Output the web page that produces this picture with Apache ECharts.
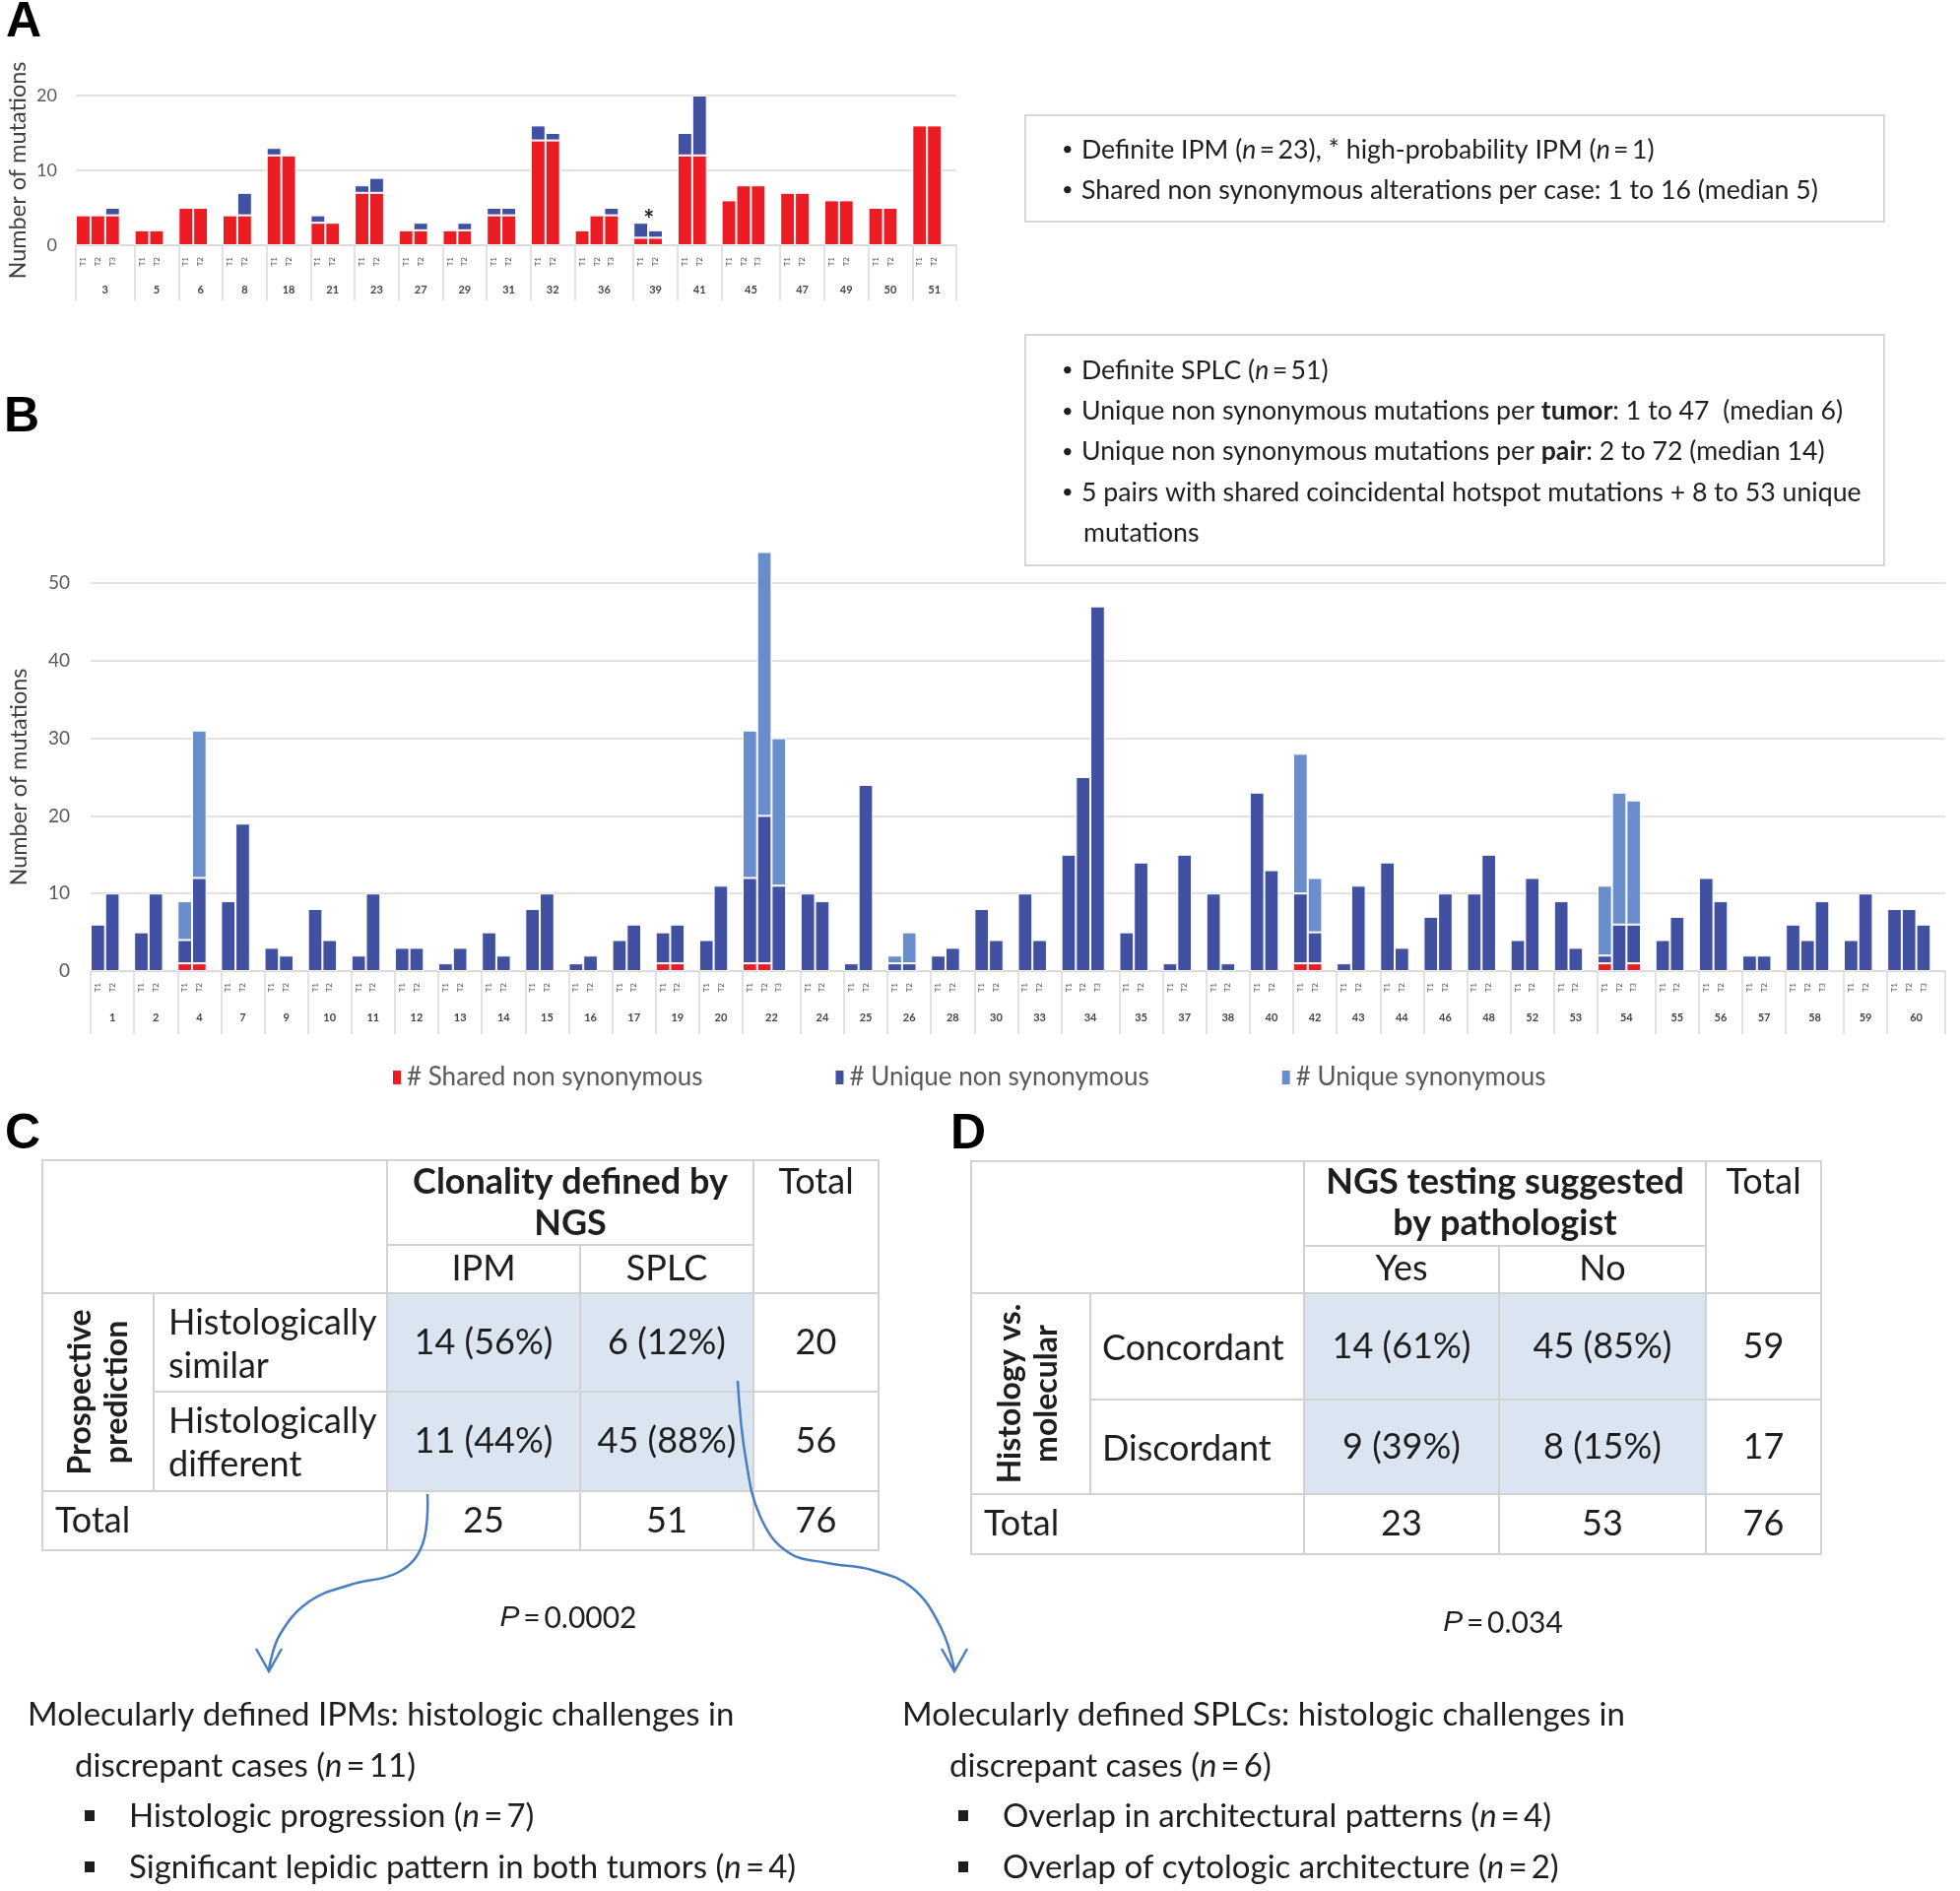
<!DOCTYPE html>
<html>
<head>
<meta charset="utf-8">
<script src="https://cdn.jsdelivr.net/npm/echarts@6/dist/echarts.min.js"></script>
<style>
html, body { margin: 0; padding: 0; background: #fff; }
#chart { width: 1990px; height: 1920px; }
</style>
</head>
<body>
<div id="chart"></div>
<script>
// ---- panel A: IPM cases (per tumor T1, T2, T3) ----
const ipmCases = ['3', '5', '6', '8', '18', '21', '23', '27', '29', '31', '32', '36', '39', '41', '45', '47', '49', '50', '51'];
const ipmShared = [[4, 4, 4], [2, 2], [5, 5], [4, 4], [12, 12], [3, 3], [7, 7], [2, 2], [2, 2], [4, 4], [14, 14], [2, 4, 4], [1, 1], [12, 12], [6, 8, 8], [7, 7], [6, 6], [5, 5], [16, 16]];
const ipmUnique = [[0, 0, 1], [0, 0], [0, 0], [0, 3], [1, 0], [1, 0], [1, 2], [0, 1], [0, 1], [1, 1], [2, 1], [0, 0, 1], [2, 1], [3, 8], [0, 0, 0], [0, 0], [0, 0], [0, 0], [0, 0]];
const highProbCase = '39';

// ---- panel B: SPLC cases ----
const splcCases = ['1', '2', '4', '7', '9', '10', '11', '12', '13', '14', '15', '16', '17', '19', '20', '22', '24', '25', '26', '28', '30', '33', '34', '35', '37', '38', '40', '42', '43', '44', '46', '48', '52', '53', '54', '55', '56', '57', '58', '59', '60'];
const splcShared = [[0, 0], [0, 0], [1, 1], [0, 0], [0, 0], [0, 0], [0, 0], [0, 0], [0, 0], [0, 0], [0, 0], [0, 0], [0, 0], [1, 1], [0, 0], [1, 1, 0], [0, 0], [0, 0], [0, 0], [0, 0], [0, 0], [0, 0], [0, 0, 0], [0, 0], [0, 0], [0, 0], [0, 0], [1, 1], [0, 0], [0, 0], [0, 0], [0, 0], [0, 0], [0, 0], [1, 0, 1], [0, 0], [0, 0], [0, 0], [0, 0, 0], [0, 0], [0, 0, 0]];
const splcUniqueNS = [[6, 10], [5, 10], [3, 11], [9, 19], [3, 2], [8, 4], [2, 10], [3, 3], [1, 3], [5, 2], [8, 10], [1, 2], [4, 6], [4, 5], [4, 11], [11, 19, 11], [10, 9], [1, 24], [1, 1], [2, 3], [8, 4], [10, 4], [15, 25, 47], [5, 14], [1, 15], [10, 1], [23, 13], [9, 4], [1, 11], [14, 3], [7, 10], [10, 15], [4, 12], [9, 3], [1, 6, 5], [4, 7], [12, 9], [2, 2], [6, 4, 9], [4, 10], [8, 8, 6]];
const splcUniqueSyn = [[0, 0], [0, 0], [5, 19], [0, 0], [0, 0], [0, 0], [0, 0], [0, 0], [0, 0], [0, 0], [0, 0], [0, 0], [0, 0], [0, 0], [0, 0], [19, 34, 19], [0, 0], [0, 0], [1, 4], [0, 0], [0, 0], [0, 0], [0, 0, 0], [0, 0], [0, 0], [0, 0], [0, 0], [18, 7], [0, 0], [0, 0], [0, 0], [0, 0], [0, 0], [0, 0], [9, 17, 16], [0, 0], [0, 0], [0, 0], [0, 0, 0], [0, 0], [0, 0, 0]];
const seriesNames = ['# Shared non synonymous', '# Unique non synonymous', '# Unique synonymous'];

// ---- tables C and D ----
const tableCHead = 'Clonality defined by\nNGS';
const tableCCols = ['IPM', 'SPLC'];
const tableCSide = 'Prospective\nprediction';
const tableCRows = ['Histologically\nsimilar', 'Histologically\ndifferent'];
const tableCCells = [['14 (56%)', '6 (12%)', '20'], ['11 (44%)', '45 (88%)', '56']];
const tableCTotals = ['25', '51', '76'];
const tableDHead = 'NGS testing suggested\nby pathologist';
const tableDCols = ['Yes', 'No'];
const tableDSide = 'Histology vs.\nmolecular';
const tableDRows = ['Concordant', 'Discordant'];
const tableDCells = [['14 (61%)', '45 (85%)', '59'], ['9 (39%)', '8 (15%)', '17']];
const tableDTotals = ['23', '53', '76'];

const RED = '#ec1c24', NAVY = '#4250a2', SKY = '#6a8ecb';
const GRIDC = '#d9d9d9', LABEL = '#595959', INK = '#1e1e1e', SHADE = '#dbe4f1', LINE = '#d2d2d2', ARROW = '#4a7ec0';
const FONT = 'Lato';
const EQ = '\u2009=\u2009';

// one slot per tumor plus one empty slot after each case
function buildSlots(cases, layers) {
    const tumorLabels = [];
    const starts = new Set();
    const centers = {};
    const columns = layers.map(() => []);
    const firstSlot = {};
    let pos = 0;
    cases.forEach((c, i) => {
        const n = layers[0][i].length;
        starts.add(pos);
        firstSlot[c] = pos;
        centers[(pos + (n + 1) / 2).toFixed(1)] = c;
        for (let t = 0; t < n; t++) {
            tumorLabels.push('T' + (t + 1));
            layers.forEach((l, k) => columns[k].push(l[i][t] ? l[i][t] : '-'));
        }
        tumorLabels.push('');
        layers.forEach((l, k) => columns[k].push('-'));
        pos += n + 1;
    });
    return { tumorLabels, starts, centers, columns, firstSlot, total: pos };
}

const slotsA = buildSlots(ipmCases, [ipmShared, ipmUnique]);
const slotsB = buildSlots(splcCases, [splcShared, splcUniqueNS, splcUniqueSyn]);

// asterisk on the high-probability IPM
const starIdx = slotsA.firstSlot[highProbCase];
slotsA.columns[1][starIdx] = {
    value: slotsA.columns[1][starIdx],
    label: { show: true, position: 'top', formatter: '*', fontSize: 26, fontWeight: 'bold', color: '#222', distance: 0, offset: [8, 10] }
};

function slotAxes(slots, gridIndex, tickLen, caseMargin) {
    return [
        {
            type: 'category', gridIndex, data: slots.tumorLabels,
            axisLine: { lineStyle: { color: GRIDC, width: 1.5 } },
            axisTick: { show: true, interval: (i) => slots.starts.has(i), length: tickLen, lineStyle: { color: GRIDC, width: 1.5 } },
            axisLabel: { interval: 0, rotate: 90, fontSize: 8, color: '#555', margin: 12, fontFamily: FONT }
        },
        {
            type: 'value', gridIndex, position: 'bottom', min: 0, max: slots.total, interval: 0.5,
            axisLine: { show: false }, axisTick: { show: false }, splitLine: { show: false },
            axisLabel: {
                margin: caseMargin, fontSize: 11, fontWeight: 'bold', color: '#444', fontFamily: FONT,
                formatter: (v) => slots.centers[v.toFixed(1)] || ''
            }
        }
    ];
}

function valueAxis(gridIndex, max, labelSize, margin, nameGap) {
    return {
        type: 'value', gridIndex, min: 0, max, interval: 10,
        axisLine: { show: false }, axisTick: { show: false },
        axisLabel: { fontSize: labelSize, color: LABEL, margin, fontFamily: FONT },
        splitLine: { lineStyle: { color: GRIDC, width: 1.5 } },
        name: 'Number of mutations', nameLocation: 'middle', nameGap,
        nameTextStyle: { fontSize: 23.5, color: '#404040', fontFamily: FONT }
    };
}

function barSeries(name, data, color, xAxisIndex, yAxisIndex, stack) {
    return {
        name, type: 'bar', data, stack, xAxisIndex, yAxisIndex,
        barCategoryGap: '0%', clip: false,
        itemStyle: { color, borderColor: '#fff', borderWidth: 1 }
    };
}

// ---- graphic helpers ----
function rich(size, family) {
    return {
        i: { fontStyle: 'italic', fontSize: size, fontFamily: family, fill: INK },
        b: { fontWeight: 'bold', fontSize: size, fontFamily: family, fill: INK },
        p: { fontStyle: 'italic', fontSize: size, fontFamily: 'Liberation Sans', fill: INK }
    };
}
function txt(x, y, text, o = {}) {
    const size = o.size || 36;
    const family = o.family || FONT;
    return {
        type: 'text', x, y, rotation: o.rot || 0,
        style: {
            text, fontSize: size, fontFamily: family, fontWeight: o.weight || 'normal',
            fill: o.color || INK, align: o.align || 'left', verticalAlign: 'middle',
            lineHeight: o.lh || Math.round(size * 1.2), rich: rich(size, family)
        }
    };
}
function seg(x1, y1, x2, y2) {
    return { type: 'line', shape: { x1, y1, x2, y2 }, style: { stroke: LINE, lineWidth: 2 } };
}
function rect(x, y, w, h, fill, stroke) {
    return { type: 'rect', shape: { x, y, width: w, height: h }, style: { fill, stroke: stroke || null, lineWidth: 2 } };
}

function table(g, head, cols, side, rows, cells, totals, rowLineH) {
    const els = [];
    const [x0, x1, x2, x3, x4, x5] = g.xs;
    const [y0, y1, y2, y3, y4, y5] = g.ys;
    els.push(rect(x2, y2, x4 - x2, y4 - y2, SHADE));
    els.push(rect(x0, y0, x5 - x0, y5 - y0, null, LINE));
    els.push(seg(x1, y2, x1, y4), seg(x2, y0, x2, y5), seg(x3, y1, x3, y5), seg(x4, y0, x4, y5));
    els.push(seg(x2, y1, x4, y1), seg(x0, y2, x5, y2), seg(x1, y3, x5, y3), seg(x0, y4, x5, y4));
    const cx = [(x2 + x3) / 2, (x3 + x4) / 2, (x4 + x5) / 2];
    els.push(txt((x2 + x4) / 2, g.headY, head, { weight: 'bold', align: 'center', lh: 42 }));
    els.push(txt(cx[2], g.totalY, 'Total', { align: 'center' }));
    cols.forEach((c, i) => els.push(txt(cx[i], g.colY, c, { align: 'center' })));
    els.push(txt(g.sideX, (y2 + y4) / 2, side, { weight: 'bold', align: 'center', rot: Math.PI / 2, size: 32, lh: 37 }));
    const rowY = [(y2 + y3) / 2, (y3 + y4) / 2];
    rows.forEach((r, i) => {
        els.push(txt(g.rowX, rowY[i] + 2, r, { lh: rowLineH }));
        cells[i].forEach((c, j) => els.push(txt(cx[j], rowY[i], c, { align: 'center' })));
    });
    els.push(txt(g.totX, (y4 + y5) / 2, 'Total'));
    totals.forEach((c, j) => els.push(txt(cx[j], (y4 + y5) / 2, c, { align: 'center' })));
    return els;
}

const graphics = [];
// panel letters
[['A', 6, 23], ['B', 4, 424], ['C', 5, 1152], ['D', 965, 1152]].forEach(([t, x, y]) =>
    graphics.push(txt(x, y, t, { size: 50, weight: 'bold', family: 'Liberation Sans', color: '#000' })));

// note boxes
graphics.push(rect(1041, 117, 872, 108, '#fff', '#d6d6d6'));
graphics.push(rect(1041, 340, 872, 234, '#fff', '#d6d6d6'));
const noteA = ['Definite IPM ({i|n}' + EQ + '23), * high-probability IPM ({i|n}' + EQ + '1)', 'Shared non synonymous alterations per case: 1 to 16 (median 5)'];
const noteB = ['Definite SPLC ({i|n}' + EQ + '51)', 'Unique non synonymous mutations per {b|tumor}: 1 to 47  (median 6)', 'Unique non synonymous mutations per {b|pair}: 2 to 72 (median 14)', '5 pairs with shared coincidental hotspot mutations + 8 to 53 unique'];
noteA.forEach((t, i) => {
    graphics.push(txt(1078, 152 + i * 41, '•', { size: 20 }));
    graphics.push(txt(1098, 152 + i * 41, t, { size: 26.7 }));
});
noteB.forEach((t, i) => {
    graphics.push(txt(1078, 376 + i * 41.3, '•', { size: 20 }));
    graphics.push(txt(1098, 376 + i * 41.3, t, { size: 26.7 }));
});
graphics.push(txt(1100, 541, 'mutations', { size: 26.7 }));

// tables
graphics.push(...table({ xs: [43, 156, 393, 589, 765, 892], ys: [1178, 1264, 1313, 1413, 1514, 1574], headY: 1221, totalY: 1200, colY: 1288, sideX: 100, rowX: 171, totX: 56 },
    tableCHead, tableCCols, tableCSide, tableCRows, tableCCells, tableCTotals, 44));
graphics.push(...table({ xs: [986, 1107, 1324, 1522, 1732, 1849], ys: [1179, 1265, 1313, 1421, 1517, 1578], headY: 1221, totalY: 1200, colY: 1288, sideX: 1044, rowX: 1119, totX: 999 },
    tableDHead, tableDCols, tableDSide, tableDRows, tableDCells, tableDTotals, 44));

// p values
graphics.push(txt(577, 1643, '{p|P}' + EQ + '0.0002', { size: 30, align: 'center' }));
graphics.push(txt(1526, 1648, '{p|P}' + EQ + '0.034', { size: 30, align: 'center' }));

// arrows
const arrowStyle = { stroke: ARROW, lineWidth: 2.5, fill: null };
graphics.push({ type: 'polyline', shape: { points: [[434, 1517], [429, 1568], [405, 1596], [356, 1609], [314, 1626], [284, 1660], [273, 1695]], smooth: 0.4 }, style: arrowStyle });
graphics.push({ type: 'polyline', shape: { points: [[260, 1674], [273, 1697], [286, 1674]] }, style: arrowStyle });
graphics.push({ type: 'polyline', shape: { points: [[749, 1402], [757, 1480], [772, 1540], [800, 1576], [840, 1587], [885, 1594], [926, 1612], [955, 1652], [969, 1695]], smooth: 0.4 }, style: arrowStyle });
graphics.push({ type: 'polyline', shape: { points: [[956, 1674], [969, 1697], [982, 1674]] }, style: arrowStyle });

// discrepant-case notes
const notesL = ['Molecularly defined IPMs: histologic challenges in', 'discrepant cases ({i|n}' + EQ + '11)', 'Histologic progression ({i|n}' + EQ + '7)', 'Significant lepidic pattern in both tumors ({i|n}' + EQ + '4)'];
const notesR = ['Molecularly defined SPLCs: histologic challenges in', 'discrepant cases ({i|n}' + EQ + '6)', 'Overlap in architectural patterns ({i|n}' + EQ + '4)', 'Overlap of cytologic architecture ({i|n}' + EQ + '2)'];
[[notesL, 28, 76, 86, 131], [notesR, 916, 964, 973, 1018]].forEach(([lines, x0, x1, xb, xt]) => {
    graphics.push(txt(x0, 1741, lines[0], { size: 33 }));
    graphics.push(txt(x1, 1793, lines[1], { size: 33 }));
    [1844, 1896].forEach((y, i) => {
        graphics.push(rect(xb, y - 6, 10, 11, INK));
        graphics.push(txt(xt, y, lines[i + 2], { size: 33 }));
    });
});

const chart = echarts.init(document.getElementById('chart'), null, { renderer: 'canvas' });
chart.setOption({
    animation: false,
    backgroundColor: '#fff',
    textStyle: { fontFamily: FONT },
    grid: [
        { left: 77, top: 97, width: 894, height: 152, outerBoundsMode: 'none' },
        { left: 92, top: 592, width: 1883, height: 394, outerBoundsMode: 'none' }
    ],
    xAxis: [...slotAxes(slotsA, 0, 56, 40), ...slotAxes(slotsB, 1, 64, 42)],
    yAxis: [valueAxis(0, 20, 18, 19, 47), valueAxis(1, 50, 19, 21, 61)],
    legend: {
        data: seriesNames, left: 392, top: 1076, icon: 'rect', itemWidth: 10, itemHeight: 16, itemGap: 133,
        selectedMode: false, textStyle: { fontSize: 26, color: LABEL, fontFamily: FONT }
    },
    series: [
        barSeries('IPM shared', slotsA.columns[0], RED, 0, 0, 'a'),
        barSeries('IPM unique', slotsA.columns[1], NAVY, 0, 0, 'a'),
        barSeries(seriesNames[0], slotsB.columns[0], RED, 2, 1, 'b'),
        barSeries(seriesNames[1], slotsB.columns[1], NAVY, 2, 1, 'b'),
        barSeries(seriesNames[2], slotsB.columns[2], SKY, 2, 1, 'b')
    ],
    graphic: { elements: graphics }
});
</script>
</body>
</html>
